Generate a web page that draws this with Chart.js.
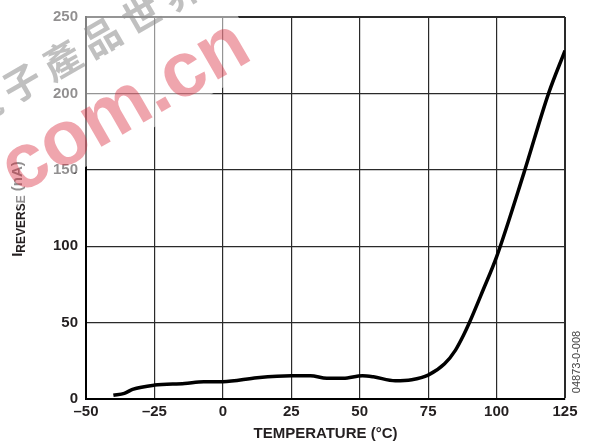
<!DOCTYPE html>
<html>
<head>
<meta charset="utf-8">
<script src="https://cdn.jsdelivr.net/npm/chart.js@4"></script>
<style>
  body { margin: 0; background: #fff; }
  canvas { display: block; }
</style>
</head>
<body>
<canvas id="c" width="599" height="445"></canvas>
<script>
// values (°C, nA)
const temps = [-40, -36, -33, -25, -14, -7, 0, 12.5, 25, 32, 38, 44, 51, 55, 63, 69, 75, 81, 85, 88, 90, 95, 100, 110, 119, 125];
const iReverse = [2.4, 3.7, 6.3, 9.1, 10.2, 11.3, 11.3, 13.9, 15.2, 15.2, 13.5, 13.5, 15.2, 14.5, 11.9, 12.6, 15.6, 23, 32, 42, 49.7, 71, 93, 148, 200, 228];
const xTicks = [-50, -25, 0, 25, 50, 75, 100, 125];
const yTicks = [0, 50, 100, 150, 200, 250];

const xTitle = 'TEMPERATURE (°C)';
const figCode = '04873-0-008';
const FONT = '"Liberation Sans", Arial, sans-serif';

// axis titles, figure code and the site watermark
const extras = {
  id: 'extras',
  afterDraw(chart) {
    const ctx = chart.ctx;
    const a = chart.chartArea;
    ctx.save();
    ctx.fillStyle = '#231f20';

    // x title
    ctx.font = 'bold 15px ' + FONT;
    ctx.textAlign = 'center';
    ctx.textBaseline = 'middle';
    ctx.fillText(xTitle, (a.left + a.right) / 2, 434);

    // y title: I with subscript REVERSE
    ctx.save();
    ctx.translate(22, 209);
    ctx.rotate(-Math.PI / 2);
    const big = 'bold 15px ' + FONT, small = 'bold 12px ' + FONT;
    ctx.font = big; const w1 = ctx.measureText('I').width;
    ctx.font = small; const w2 = ctx.measureText('REVERSE').width;
    ctx.font = big; const w3 = ctx.measureText(' (nA)').width;
    let x = -(w1 + w2 + w3) / 2;
    ctx.textAlign = 'left';
    ctx.textBaseline = 'alphabetic';
    ctx.font = big; ctx.fillText('I', x, 0); x += w1;
    ctx.font = small; ctx.fillText('REVERSE', x, 3); x += w2;
    ctx.font = big; ctx.fillText(' (nA)', x, 0);
    ctx.restore();

    // figure code
    ctx.save();
    ctx.translate(577, 362);
    ctx.rotate(-Math.PI / 2);
    ctx.font = '11px ' + FONT;
    ctx.fillStyle = '#444';
    ctx.textAlign = 'center';
    ctx.textBaseline = 'middle';
    ctx.fillText(figCode, 0, 0);
    ctx.restore();

    // watermark: pale band, grey characters, pink url
    ctx.save();
    ctx.translate(11, 173);
    ctx.rotate(-Math.PI / 6);
    ctx.fillStyle = 'rgba(255,255,255,0.5)';
    ctx.fillRect(-150, -220, 425, 252);
    ctx.restore();

    ctx.save();
    ctx.translate(-18, 106);
    ctx.rotate(-Math.PI / 6);
    ctx.font = 'bold 38px "Noto Sans CJK TC"';
    ctx.fillStyle = 'rgba(140,140,140,0.55)';
    ctx.textAlign = 'center';
    ctx.textBaseline = 'middle';
    const cjk = '電子產品世界';
    for (let i = 0; i < cjk.length; i++) ctx.fillText(cjk[i], i * 46, 0);
    ctx.restore();

    ctx.save();
    ctx.translate(18, 195);
    ctx.rotate(-Math.PI / 6);
    ctx.font = 'bold 78px ' + FONT;
    ctx.fillStyle = 'rgba(214,30,50,0.4)';
    ctx.textAlign = 'left';
    ctx.textBaseline = 'alphabetic';
    ctx.fillText('com.cn', 0, 0);
    ctx.restore();

    ctx.restore();
  }
};

const edgeWidth = ctx => (ctx.tick && (ctx.tick.value === 250 || ctx.tick.value === 125)) ? 2 : 1.2;

new Chart(document.getElementById('c'), {
  type: 'line',
  data: {
    datasets: [{
      data: temps.map((t, i) => ({ x: t, y: iReverse[i] })),
      borderColor: '#000',
      borderWidth: 3.5,
      pointRadius: 0,
      cubicInterpolationMode: 'monotone',
      fill: false
    }]
  },
  options: {
    responsive: false,
    animation: false,
    layout: { padding: { top: 15, right: 34, left: 0, bottom: 0 } },
    plugins: { legend: { display: false }, tooltip: { enabled: false } },
    scales: {
      x: {
        type: 'linear',
        min: xTicks[0],
        max: xTicks[xTicks.length - 1],
        afterBuildTicks: s => { s.ticks = xTicks.map(v => ({ value: v })); },
        afterFit: s => { s.height = 46; },
        ticks: {
          padding: 4,
          color: '#231f20',
          font: { family: FONT, size: 15, weight: 'bold' },
          callback: v => String(v).replace('-', '\u2013')
        },
        grid: { color: '#2a2a2a', lineWidth: edgeWidth, drawTicks: false },
        border: { color: '#000', width: 2 }
      },
      y: {
        min: yTicks[0],
        max: yTicks[yTicks.length - 1],
        afterBuildTicks: s => { s.ticks = yTicks.map(v => ({ value: v })); },
        afterFit: s => { s.width = 86; },
        ticks: {
          padding: 8,
          color: '#231f20',
          font: { family: FONT, size: 15, weight: 'bold' }
        },
        grid: { color: '#2a2a2a', lineWidth: edgeWidth, drawTicks: false },
        border: { color: '#000', width: 2 }
      }
    }
  },
  plugins: [extras]
});
</script>
</body>
</html>
